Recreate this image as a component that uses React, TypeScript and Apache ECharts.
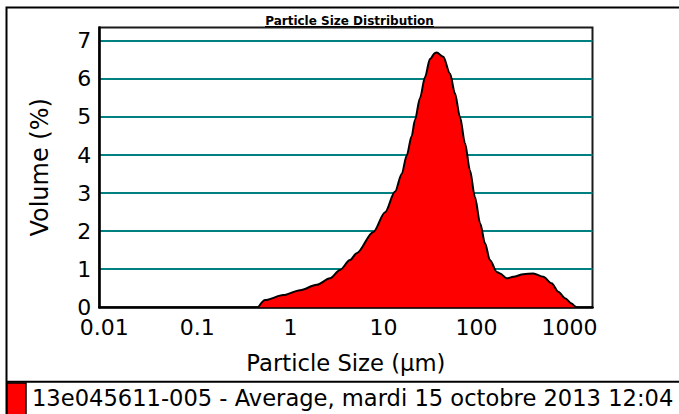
import React, { useEffect, useRef } from "react";
import * as echarts from "echarts";

// Particle size (µm) and volume (%)
const particleSizes = [
  0.512, 0.604, 0.951, 1.44, 2.17, 3.02, 3.86, 4.95, 5.84, 8.81, 11.8, 15.1,
  17.8, 20.1, 22.8, 24.7, 28.0, 31.7, 35.8, 40.6, 42.3, 49.8, 58.8, 66.5, 75.3,
  85.3, 96.4, 109, 124, 140, 158, 187, 203, 239, 282, 361, 462, 592, 728, 857,
  1012, 1195, 1297, 1340,
];
const volumePercent = [
  0, 0.19, 0.32, 0.45, 0.59, 0.76, 0.98, 1.24, 1.42, 1.98, 2.5, 3.04, 3.5,
  3.98, 4.5, 4.92, 5.5, 6.05, 6.52, 6.68, 6.69, 6.58, 6.14, 5.62, 5.0, 4.31,
  3.6, 2.9, 2.21, 1.68, 1.24, 0.93, 0.89, 0.76, 0.8, 0.87, 0.89, 0.8, 0.63,
  0.41, 0.24, 0.1, 0.03, 0,
];
const xTickLabels = ["0.01", "0.1", "1", "10", "100", "1000"];
const yTickLabels = ["0", "1", "2", "3", "4", "5", "6", "7"];

const titleText = "Particle Size Distribution";
const xAxisName = "Particle Size (µm)";
const yAxisName = "Volume (%)";
const seriesName = "13e045611-005 - Average, mardi 15 octobre 2013 12:04";

const FONT = "DejaVu Sans";

export default function App() {
  const ref = useRef<HTMLDivElement>(null);

  useEffect(() => {
    if (!ref.current) return;
    const chart = echarts.init(ref.current, null, { renderer: "svg" });
    const data = particleSizes.map((s, i) => [s, volumePercent[i]]);

    chart.setOption({
      animation: false,
      backgroundColor: "#ffffff",
      textStyle: { fontFamily: FONT },
      grid: {
        left: 99.3,
        right: 86.5,
        top: 27.5,
        bottom: 106.7,
        show: true,
        borderColor: "#1a1a1a",
        borderWidth: 2,
        backgroundColor: "transparent",
        outerBoundsMode: "none",
        containLabel: false,
      },
      xAxis: {
        type: "log",
        logBase: 10,
        min: 0.01,
        max: 2000,
        name: xAxisName,
        nameLocation: "middle",
        nameGap: 44,
        nameTextStyle: { fontFamily: FONT, fontSize: 22.7, color: "#000" },
        axisLine: { show: true, lineStyle: { color: "#000", width: 2.5 } },
        axisTick: { show: false },
        minorTick: { show: false },
        splitLine: { show: false },
        minorSplitLine: { show: false },
        axisLabel: {
          fontFamily: FONT,
          fontSize: 22,
          color: "#000",
          margin: 9,
          padding: [0, 0, 0, 10],
          formatter: (v: number) => {
            const l = Math.log10(v);
            const e = Math.round(l);
            if (Math.abs(l - e) > 1e-6) return "";
            return xTickLabels[e + 2] ?? "";
          },
        },
      },
      yAxis: {
        type: "value",
        min: 0,
        max: 7.35,
        interval: 1,
        name: yAxisName,
        nameLocation: "middle",
        nameGap: 47,
        nameTextStyle: { fontFamily: FONT, fontSize: 24, color: "#000" },
        axisLine: { show: true, lineStyle: { color: "#000", width: 2.5 } },
        axisTick: { show: false },
        axisLabel: {
          fontFamily: FONT,
          fontSize: 22,
          color: "#000",
          margin: 8,
          formatter: (v: number) =>
            Number.isInteger(v) ? yTickLabels[v] ?? "" : "",
        },
        splitLine: {
          show: true,
          showMinLine: false,
          showMaxLine: false,
          lineStyle: { color: "#008080", width: 2 },
        },
      },
      series: [
        {
          type: "line",
          name: seriesName,
          data,
          symbol: "none",
          showSymbol: false,
          smooth: 0.3,
          smoothMonotone: "x",
          lineStyle: { color: "#000", width: 2 },
          itemStyle: { color: "#ff0000" },
          areaStyle: { color: "#ff0000", opacity: 1 },
          z: 3,
        },
      ],
      graphic: [
        {
          type: "rect",
          silent: true,
          shape: { x: 6.5, y: 7.5, width: 1000, height: 1000 },
          style: { fill: "none", stroke: "#000", lineWidth: 2 },
        },
        {
          type: "line",
          silent: true,
          shape: { x1: 6.5, y1: 381.7, x2: 679, y2: 381.7 },
          style: { stroke: "#000", lineWidth: 2 },
        },
        {
          type: "rect",
          silent: true,
          shape: { x: 7, y: 383, width: 19, height: 40 },
          style: { fill: "#ff0000", stroke: "#000", lineWidth: 1.5 },
        },
        {
          type: "text",
          silent: true,
          x: 32,
          y: 398,
          style: {
            text: seriesName,
            fontFamily: FONT,
            fontSize: 22.6,
            fill: "#000",
            align: "left",
            verticalAlign: "middle",
            textAlign: "left",
            textVerticalAlign: "middle",
          },
        },
        {
          type: "text",
          silent: true,
          x: 349.5,
          y: 21,
          style: {
            text: titleText,
            fontFamily: FONT,
            fontSize: 12,
            fontWeight: "bold",
            fill: "#000",
            align: "center",
            verticalAlign: "middle",
            textAlign: "center",
            textVerticalAlign: "middle",
          },
        },
        {
          type: "line",
          silent: true,
          shape: { x1: 265, y1: 26.5, x2: 434, y2: 26.5 },
          style: { stroke: "#000", lineWidth: 1 },
        },
      ],
    });

    return () => {
      chart.dispose();
    };
  }, []);

  return (
    <div
      ref={ref}
      style={{
        position: "absolute",
        left: 0,
        top: 0,
        width: 679,
        height: 414,
      }}
    />
  );
}
